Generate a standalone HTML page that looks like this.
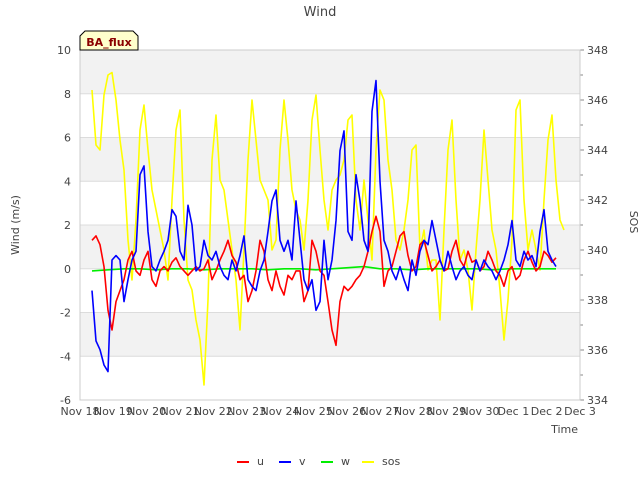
<!DOCTYPE html>
<html><head><meta charset="utf-8"><style>
body{margin:0;background:#fff;font-family:"DejaVu Sans","Liberation Sans",sans-serif}
svg text{font-family:"DejaVu Sans","Liberation Sans",sans-serif}
</style></head><body>
<svg id="chart" width="640" height="480" xmlns="http://www.w3.org/2000/svg">
<g id="bands"></g><g id="grid"></g><g id="series"></g><g id="axes"></g>
<text x="320" y="16" text-anchor="middle" font-size="13" fill="#444">Wind</text>
<text transform="translate(19,225) rotate(-90)" text-anchor="middle" font-size="11" fill="#444">Wind (m/s)</text>
<text transform="translate(630,222) rotate(90)" text-anchor="middle" font-size="11" fill="#444">SOS</text>
<text x="578" y="433" text-anchor="end" font-size="11" fill="#444">Time</text>
<g>
<path d="M80,50 L80,36 L85,31 L133,31 L138,36 L138,50 Z" fill="#ffffcc" stroke="#000" stroke-width="1"/>
<text x="109" y="46" text-anchor="middle" font-size="11" font-weight="bold" fill="#8b0000">BA_flux</text>
</g>
<g id="legend"></g>
</svg>
<script>
const uVals=[1.3,1.5,1.1,0.1,-1.9,-2.8,-1.5,-1.0,-0.5,0.4,0.8,-0.1,-0.3,0.4,0.8,-0.5,-0.8,-0.1,0.1,-0.1,0.3,0.5,0.1,-0.1,-0.3,-0.1,0.1,-0.1,0,0.4,-0.5,-0.1,0.4,0.8,1.3,0.6,0.3,-0.5,-0.3,-1.5,-1.0,-0.1,1.3,0.8,-0.5,-1.0,-0.1,-0.8,-1.2,-0.3,-0.5,-0.1,-0.1,-1.5,-1.0,1.3,0.8,-0.1,-0.3,-1.5,-2.8,-3.5,-1.5,-0.8,-1.0,-0.8,-0.5,-0.3,0.1,0.8,1.7,2.4,1.7,-0.8,-0.1,0.1,0.8,1.5,1.7,0.6,-0.1,0.1,1.1,1.3,0.6,-0.1,0.1,0.4,-0.1,0,0.8,1.3,0.4,0.1,0.8,0.3,0.4,-0.1,0.1,0.8,0.4,-0.1,-0.3,-0.8,-0.1,0.1,-0.5,-0.3,0.4,0.8,0.3,-0.1,0.1,0.8,0.6,0.3,0.5];
const vVals=[-1.0,-3.3,-3.7,-4.4,-4.7,0.4,0.6,0.4,-1.5,-0.5,0.4,0.8,4.3,4.7,1.7,0.1,-0.1,0.4,0.8,1.3,2.7,2.4,0.8,0.4,2.9,2.0,-0.1,0.1,1.3,0.6,0.4,0.8,0.1,-0.3,-0.5,0.4,-0.1,0.6,1.5,-0.5,-0.8,-1.0,-0.1,0.4,1.7,3.1,3.6,1.3,0.8,1.3,0.4,3.1,1.3,-0.5,-1.0,-0.5,-1.9,-1.5,1.3,-0.5,0.4,2.2,5.4,6.3,1.7,1.3,4.3,3.1,1.3,0.8,7.2,8.6,4.0,1.3,0.8,-0.1,-0.5,0.1,-0.5,-1.0,0.4,-0.3,0.8,1.3,1.1,2.2,1.3,0.4,-0.1,0.8,0.1,-0.5,-0.1,0.1,-0.3,-0.5,0.4,-0.1,0.4,0.1,-0.1,-0.5,-0.1,0.4,1.1,2.2,0.4,0.1,0.8,0.4,0.6,0.1,1.7,2.7,0.8,0.4,0.1];
const wVals=[-0.1,-0.05,0,0,-0.05,0,0,-0.05,0,0,0,-0.05,0,0,-0.05,0,0.05,0.1,0,0,-0.05,0,0,0,0,-0.05,0,0,0,0];
const sosVals=[346.4,344.2,344.0,346.2,347.0,347.1,346.0,344.4,343.2,340.4,338.8,341.2,344.8,345.8,344.0,342.4,341.6,340.8,340.0,338.8,342.0,344.8,345.6,341.2,338.8,338.4,337.2,336.4,334.6,338.0,343.6,345.4,342.8,342.4,341.2,340.0,338.8,336.8,340.0,343.6,346.0,344.4,342.8,342.4,342.0,340.0,340.4,344.0,346.0,344.4,342.4,341.6,341.2,340.0,342.0,345.2,346.2,344.0,342.0,340.8,342.4,342.8,343.0,343.6,345.2,345.4,342.0,340.8,342.8,341.2,339.6,344.0,346.4,346.0,343.6,342.4,340.4,340.0,340.8,342.0,344.0,344.2,340.0,340.8,339.2,339.6,339.6,337.2,340.8,344.0,345.2,342.0,339.6,340.0,339.2,337.6,340.0,342.0,344.8,342.8,340.8,340.0,338.4,336.4,338.0,340.4,345.6,346.0,342.0,340.0,340.8,340.0,339.2,342.0,344.4,345.4,342.8,341.2,340.8];
const xTickLabels=["Nov 18","Nov 19","Nov 20","Nov 21","Nov 22","Nov 23","Nov 24","Nov 25","Nov 26","Nov 27","Nov 28","Nov 29","Nov 30","Dec 1","Dec 2","Dec 3"];
const yTicks=[-6,-4,-2,0,2,4,6,8,10];
const y2Ticks=[334,336,338,340,342,344,346,348];
const startDay=0.36, stepDay=0.12, wStep=0.48;
const L=80,R=580,T=50,B=400;
const NS="http://www.w3.org/2000/svg";
const xs=d=>L+d*(R-L)/15;
const ys=v=>B-(v+6)*(B-T)/16;
const ys2=v=>B-(v-334)*(B-T)/14;
function mk(tag,attrs,parent){const e=document.createElementNS(NS,tag);for(const k in attrs)e.setAttribute(k,attrs[k]);parent.appendChild(e);return e;}
const bands=document.getElementById('bands'),grid=document.getElementById('grid'),axes=document.getElementById('axes'),series=document.getElementById('series');
for(let v=-6;v<10;v+=2){
  const r=mk('rect',{x:L,y:ys(v+2),width:R-L,height:ys(v)-ys(v+2),fill:((v/2)%2===0)?'#f2f2f2':'#ffffff'},bands);
  
  
}
yTicks.forEach(v=>{
  const l=mk('line',{x1:L,x2:R,y1:ys(v),y2:ys(v),stroke:'#dcdcdc','stroke-width':1},grid);
  
  
  const t=mk('text',{x:71,y:ys(v)+4,'text-anchor':'end','font-size':11,fill:'#444'},axes);
  t.textContent=v;
  
  
});
y2Ticks.forEach(v=>{
  const t=mk('text',{x:587,y:ys2(v)+4,'font-size':11,fill:'#444'},axes);
  t.textContent=v;
  
  
  mk('line',{x1:R,x2:R+4,y1:ys2(v),y2:ys2(v),stroke:'#888'},axes);
  if(v<348)mk('line',{x1:R,x2:R+3,y1:ys2(v+1),y2:ys2(v+1),stroke:'#888'},axes);
});
xTickLabels.forEach((s,i)=>{
  const t=mk('text',{x:xs(i),y:415,'text-anchor':'middle','font-size':11,fill:'#444'},axes);
  t.textContent=s;
  
  
});
mk('rect',{x:L,y:T,width:R-L,height:B-T,fill:'none',stroke:'#cccccc'},axes);
function line(vals,step,scale,color,name){
  const d=vals.map((v,i)=>(i?'L':'M')+xs(startDay+i*step).toFixed(1)+','+scale(v).toFixed(1)).join(' ');
  const p=mk('path',{d:d,fill:'none',stroke:color,'stroke-width':1.6,'stroke-linejoin':'round'},series);
  
  
}
line(sosVals,stepDay,ys2,'#ffff00','sos-line');
line(wVals,wStep,ys,'#00ee00','w-line');
line(uVals,stepDay,ys,'#ff0000','u-line');
line(vVals,stepDay,ys,'#0000ff','v-line');
const leg=document.getElementById('legend');
[["u","#ff0000",237],["v","#0000ff",279],["w","#00ee00",321],["sos","#ffff00",362]].forEach(e=>{
  const g=mk('g',{},leg);
  
  
  mk('line',{x1:e[2],x2:e[2]+12,y1:462,y2:462,stroke:e[1],'stroke-width':2},g);
  const t=mk('text',{x:e[2]+20,y:465,'font-size':11,fill:'#444'},g);
  t.textContent=e[0];
});
</script>
</body></html>
